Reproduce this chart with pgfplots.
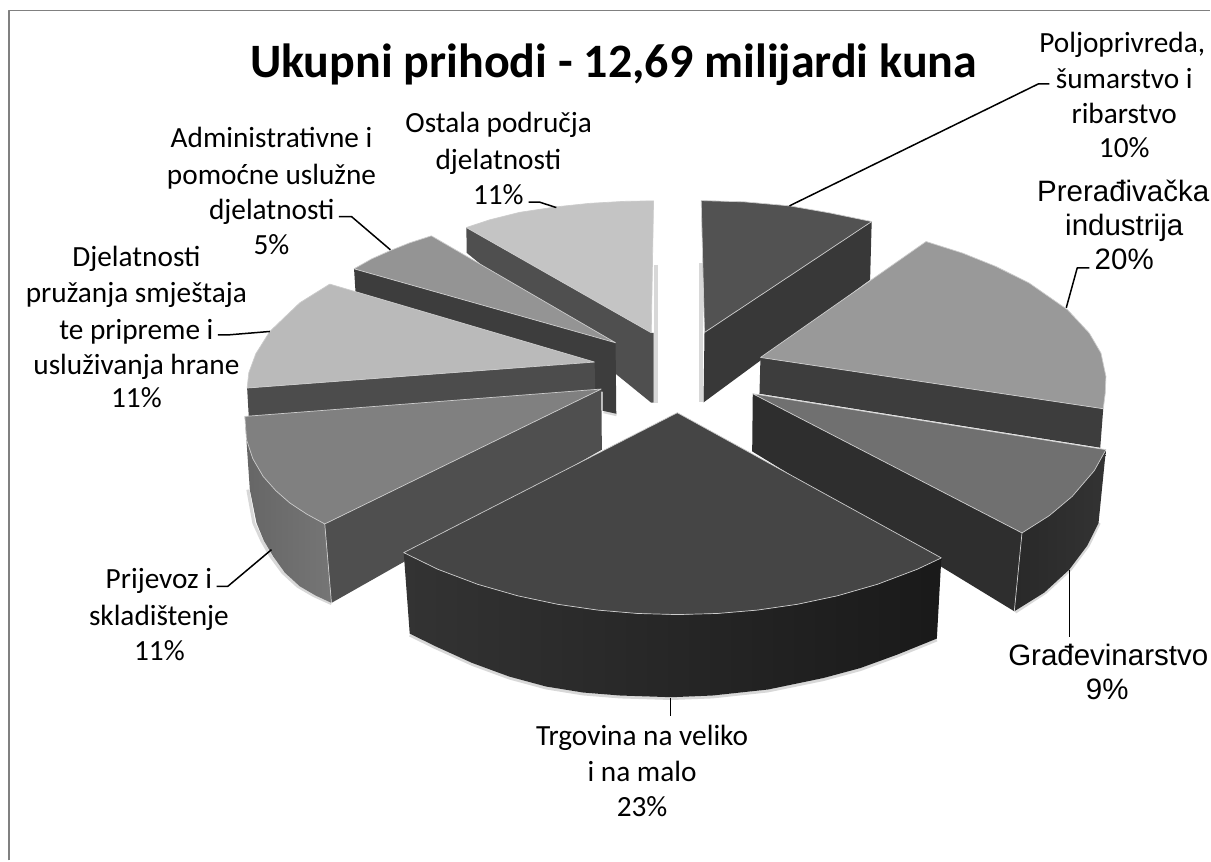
\documentclass[border=0pt]{standalone}
\usepackage{fontspec}
\setmainfont{Carlito}
\newfontfamily\ars{Liberation Sans}
\usepackage{pgfplots}
\pgfplotsset{compat=1.18}
\definecolor{edge}{HTML}{CCCCCC}
\tikzset{
  psh/.style={draw=black!30,line width=3pt,opacity=0.5},
  lead/.style={draw=black,line width=1.5pt},
  lab/.style={font=\fontsize{29.3}{29.3}\selectfont,anchor=center,inner sep=0pt,text height=18pt,text depth=6pt,yshift=-3.5pt},
  labb/.style={font=\fontsize{29.5}{29.5}\selectfont\ars,anchor=center,inner sep=0pt,text height=18pt,text depth=6pt,yshift=-3.5pt},
  ptop/.style={fill=#1,draw=edge,line width=0.7pt},
  pside/.style={fill=#1,draw=none},
}
\begin{document}
\begin{tikzpicture}
\begin{axis}[
  width=1211pt,height=861pt,scale only axis,
  xmin=0,xmax=1211,ymin=0,ymax=861,y dir=reverse,
  hide axis,clip=false,
  every axis plot/.append style={mark=none,line join=round},
]
% page
\addplot[fill=white,draw=none] coordinates {(0,0)(1211,0)(1211,861)(0,861)(0,0)};
\addplot[draw=black!50,line width=1.7pt] coordinates {(9,861)(9,10.5)(1211,10.5)};

% Ostala
\addplot[psh,line width=4pt] coordinates {(656.5,265)(656.5,403)};
\addplot[pside=black!69] coordinates {(466.7,227.7)(467,253)(651.7,403)(654,403)(654,333)(651.7,333)(466.7,227.7)};
\addplot[ptop=black!23] coordinates {(651.7,333)(654,201)(625,201.5)(590,203.5)(556.7,207)(520,212.5)(490,220)(466.7,227.7)(651.7,333)};
% Administrativne
\addplot[psh] coordinates {(604,412)(617,415)};
\addplot[pside=black!76] coordinates {(354.3,269)(616,343)(616.7,414)(603,411)(603,392)(590,392)(356,296)(354.3,269)};
\addplot[ptop=black!42] coordinates {(616,343)(431.7,236)(410,243)(390,251)(372,259)(354.3,269)(616,343)};
% Smjestaj
\addplot[pside=black!70] coordinates {(247.3,388.3)(249,418)(595.7,391)(595,362.3)(247.3,388.3)};
\addplot[ptop=black!27] coordinates {(595,362.3)(330,284.3)(300,303)(270,331.7)(256,354)(249,373)(247.3,388.3)(595,362.3)};
% Prijevoz
\addplot[psh] coordinates {(248,490)(254,523.3)(262,541)(271,556.7)(283,573)(298,586.7)(314,596)(331.7,604)};
\addplot[pside=black!69] coordinates {(325,524.3)(331.7,603.3)(602.3,450)(601.7,389.3)(325,524.3)};
\addplot[left color=black!60,right color=black!54,draw=none] coordinates {(245,416.7)(250,490)(256.7,523.3)(264,541)(273.3,556.7)(285,573)(300,586.7)(316,596)(331.7,603.3)(325,524.3)(245,416.7)};
\addplot[draw=edge,line width=0.7pt] coordinates {(325,524.3)(331.7,603.3)};
\addplot[ptop=black!50] coordinates {(601.7,389.3)(245,416.7)(246.7,440)(253,459)(263.3,476.7)(276,491)(290,503.3)(307,514.5)(325,524.3)(601.7,389.3)};
% Poljoprivreda
\addplot[psh,line width=4pt] coordinates {(701,263)(701,402)};
\addplot[pside=black!78] coordinates {(705,332.7)(704,402.7)(870.7,280)(872.3,221.7)(705,332.7)};
\addplot[ptop=black!68] coordinates {(705,332.7)(701.7,200.7)(745,202)(790,206)(830,213)(872.3,221.7)(705,332.7)};
% Preradivacka
\addplot[pside=black!76] coordinates {(761,357.7)(760,394)(1101,448)(1104,409)(761,357.7)};
\addplot[ptop=black!40] coordinates {(761,357.7)(926.7,241.7)(963.3,253.3)(996.7,266.7)(1030,283.3)(1068.3,310)(1090,333.3)(1101.7,353.3)(1106.7,376.7)(1106,393.3)(1104,409)(761,357.7)};
% Gradevinarstvo
\addplot[psh] coordinates {(1100,523.3)(1089,546)(1071,570)(1046,593)(1016,612.5)};
\addplot[pside=black!82] coordinates {(753.3,394)(752.7,451.7)(1015,611.7)(1022.7,533.3)(753.3,394)};
\addplot[left color=black!84,right color=black!80,draw=none] coordinates {(1106.7,450)(1099.3,523.3)(1088,546)(1070,570)(1045,593)(1015,611.7)(1022.7,533.3)(1106.7,450)};
\addplot[draw=edge,line width=0.7pt] coordinates {(1022.7,533.3)(1015,611.7)};
\addplot[ptop=black!56] coordinates {(753.3,394)(1106.7,450)(1095,471)(1073,496.7)(1050,516)(1022.7,533.3)(753.3,394)};
% Trgovina
\addplot[psh] coordinates {(410,635.5)(435.5,648)(472.5,664.8)(509.5,678.4)(546.5,688.4)(583.5,694.4)(620.5,697.4)(672,699)(713,697.4)(768.5,691.4)(824,680)(861,670)(898,656.4)(937.5,640.4)};
\addplot[left color=black!80,right color=black!90,draw=none] coordinates {(404,553)(410,634)(435.5,646.6)(472.5,663.4)(509.5,677)(546.5,687)(583.5,693)(620.5,696)(672,697.7)(713,696)(768.5,690)(824,678.5)(861,668.5)(898,655)(937.5,639)(942,558.3)(918,569.6)(878,584.7)(838,596.2)(798,604.7)(758,610.5)(718,613.9)(678,615)(638,613.9)(598,610.5)(558,604.7)(518,596.2)(478,584.7)(438,569.6)(404,553)};
\addplot[ptop=black!73] coordinates {(677.8,413)(404,553)(438,569.6)(478,584.7)(518,596.2)(558,604.7)(598,610.5)(638,613.9)(678,615)(718,613.9)(758,610.5)(798,604.7)(838,596.2)(878,584.7)(918,569.6)(942,558.3)(677.8,413)};

% leaders
\addplot[lead] coordinates {(790,206)(1039,84)(1050,84)};
\addplot[lead] coordinates {(1067,308)(1078,268)(1090,268)};
\addplot[lead] coordinates {(1070,570)(1070,637)};
\addplot[lead] coordinates {(671,698)(671,716.7)};
\addplot[lead] coordinates {(271.7,550)(228,586.7)(216.7,586.7)};
\addplot[lead] coordinates {(270,331.7)(230,335)(218,335)};
\addplot[lead] coordinates {(390.7,250)(351.7,216.7)(339,216.7)};
\addplot[lead] coordinates {(556.7,207.7)(540,202.3)(529,202.3)};

% text
\node[font=\fontsize{48}{48}\selectfont\bfseries,inner sep=0pt,text height=31pt,text depth=9pt] at (axis cs:614,67) {Ukupni prihodi - 12,69 milijardi kuna};
\node[lab] at (axis cs:1123,43) {Poljoprivreda,};
\node[lab] at (axis cs:1125,79) {šumarstvo i};
\node[lab] at (axis cs:1125,114) {ribarstvo};
\node[lab] at (axis cs:1125,148) {10\%};
\node[labb] at (axis cs:1124,192) {Prerađivačka};
\node[labb] at (axis cs:1125,226) {industrija};
\node[labb] at (axis cs:1125,260) {20\%};
\node[labb] at (axis cs:1109,656) {Građevinarstvo};
\node[labb] at (axis cs:1108,690) {9\%};
\node[lab] at (axis cs:642.5,736.7) {Trgovina na veliko};
\node[lab] at (axis cs:642.5,773) {i na malo};
\node[lab] at (axis cs:642.5,808) {23\%};
\node[lab] at (axis cs:159,579) {Prijevoz i};
\node[lab] at (axis cs:159,616) {skladištenje};
\node[lab] at (axis cs:159.5,651.7) {11\%};
\node[lab] at (axis cs:136.5,257) {Djelatnosti};
\node[lab] at (axis cs:136.5,293) {pružanja smještaja};
\node[lab] at (axis cs:136.5,330) {te pripreme i};
\node[lab] at (axis cs:136.5,365) {usluživanja hrane};
\node[lab] at (axis cs:136.5,398) {11\%};
\node[lab] at (axis cs:271.7,138) {Administrativne i};
\node[lab] at (axis cs:271.7,175) {pomoćne uslužne};
\node[lab] at (axis cs:272,210) {djelatnosti};
\node[lab] at (axis cs:271.7,245) {5\%};
\node[lab] at (axis cs:499,123) {Ostala područja};
\node[lab] at (axis cs:498.7,160) {djelatnosti};
\node[lab] at (axis cs:498.7,195) {11\%};
\end{axis}
\end{tikzpicture}
\end{document}
